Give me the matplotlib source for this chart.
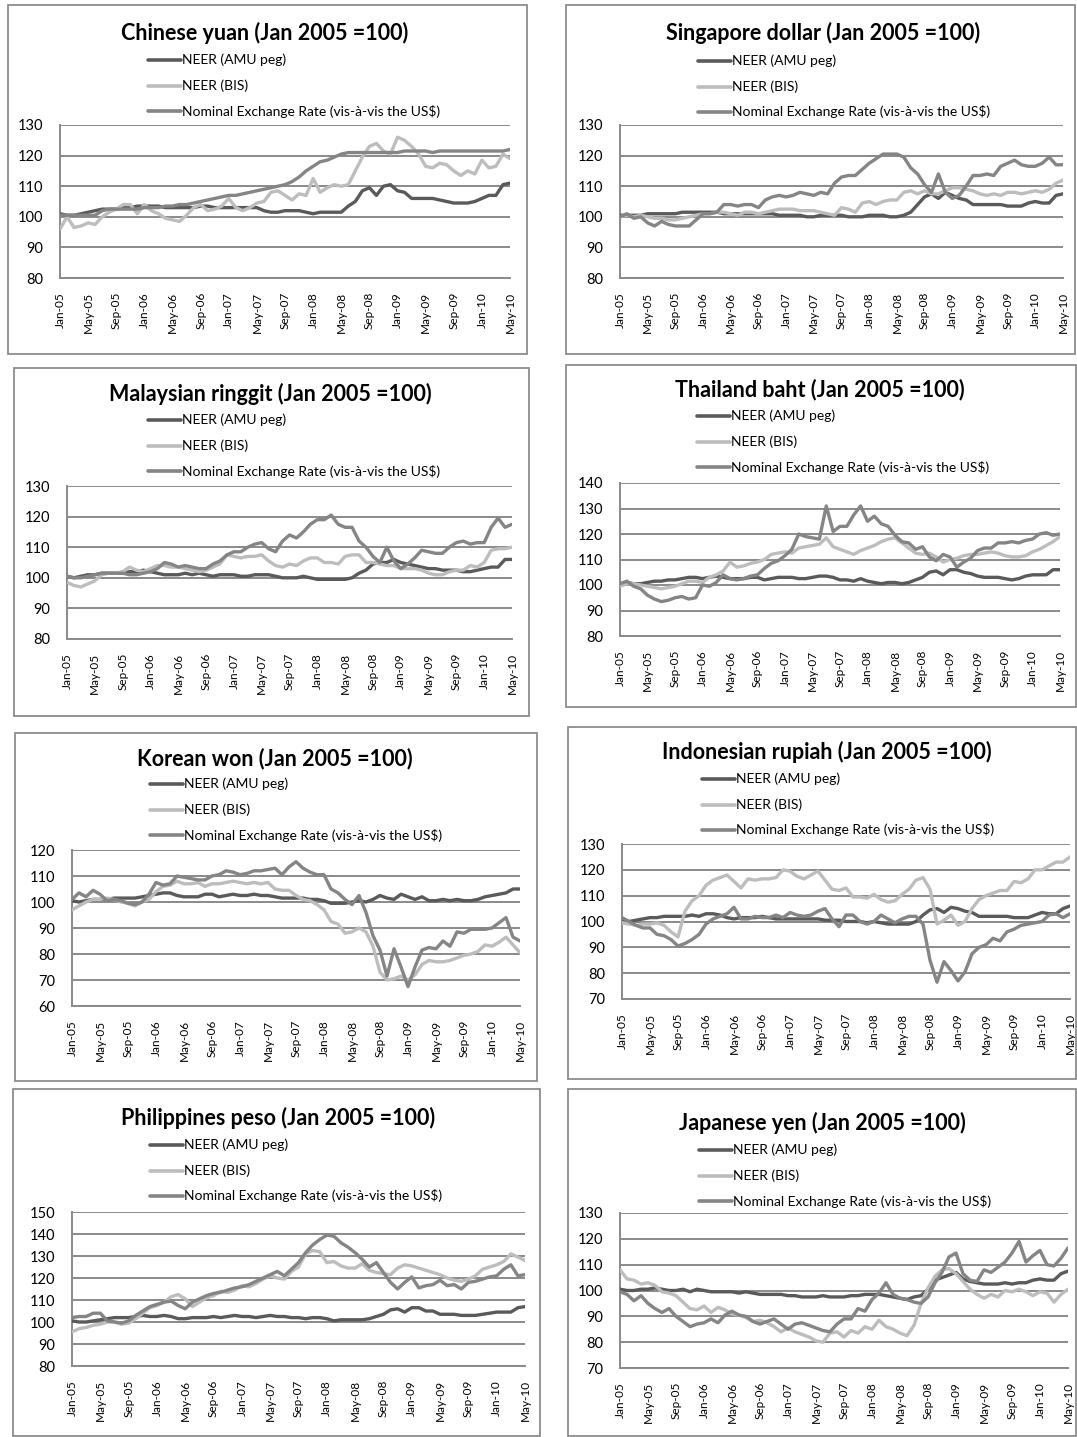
import numpy as np
import matplotlib
matplotlib.use("Agg")
import matplotlib.pyplot as plt
from matplotlib.lines import Line2D
from matplotlib.patches import Rectangle

plt.rcParams['font.family'] = ['Lato', 'DejaVu Sans']

# ---------------- data ----------------
tick_labels = ['Jan-05', 'May-05', 'Sep-05', 'Jan-06', 'May-06', 'Sep-06', 'Jan-07', 'May-07',
               'Sep-07', 'Jan-08', 'May-08', 'Sep-08', 'Jan-09', 'May-09', 'Sep-09', 'Jan-10', 'May-10']
series_names = ['NEER (AMU peg)', 'NEER (BIS)', 'Nominal Exchange Rate (vis-à-vis the US$)']

cny_amu = [101, 100.5, 100.5, 101, 101.5, 102, 102.5, 102.5, 102.5, 103, 103, 103.5, 103.5, 103.5, 103.5, 103, 103, 103, 103, 103,
           103.5, 103.5, 103, 103, 103, 103, 103, 103, 103, 102, 101.5, 101.5, 102, 102, 102, 101.5, 101, 101.5, 101.5, 101.5,
           101.5, 103.5, 105, 108.5, 109.5, 107, 110, 110.5, 108.5, 108, 106, 106, 106, 106, 105.5, 105, 104.5, 104.5, 104.5, 105,
           106, 107, 107, 110.5, 111]
cny_bis = [96, 100, 96.5, 97, 98, 97.5, 100, 101.5, 102.5, 104, 104, 101, 104, 102, 101, 99.5, 99, 98.5, 100.5, 103,
           104, 102, 102.5, 103.5, 106, 103, 102, 103, 104.5, 105, 108, 108.5, 107, 105.5, 107.5, 107, 112.5, 108, 109.5, 110.5,
           110, 110.5, 115, 119.5, 123, 124, 121.5, 120.5, 126, 125, 123, 120.5, 116.5, 116, 117.5, 117, 115, 113.5, 115, 114,
           118.5, 116, 116.5, 120.5, 119]
cny_ner = [100.5, 100.5, 100.5, 100.5, 100.5, 100.5, 102, 102.5, 102.5, 102.5, 102.5, 102.5, 103, 103, 103, 103.5, 103.5, 104, 104, 104.5,
           105, 105.5, 106, 106.5, 107, 107, 107.5, 108, 108.5, 109, 109.5, 110, 110.5, 111.5, 113, 115, 116.5, 118, 118.5, 119.5,
           120.5, 121, 121, 121, 121, 121, 121, 121, 121, 121.5, 121.5, 121.5, 121.5, 121, 121.5, 121.5, 121.5, 121.5, 121.5, 121.5,
           121.5, 121.5, 121.5, 121.5, 122]

sgd_amu = [100.5, 100.5, 100.5, 100.5, 101, 101, 101, 101, 101, 101.5, 101.5, 101.5,
           101.5, 101.5, 101.5, 101, 101, 101, 101, 101, 101, 101, 101, 100.5,
           100.5, 100.5, 100.5, 100, 100, 100.5, 100.5, 100.5, 100.5, 100, 100, 100,
           100.5, 100.5, 100.5, 100, 100, 100.5,
           101.5, 104, 106.5, 107.5, 106, 108, 107, 106, 105.5, 104, 104, 104, 104, 104, 103.5, 103.5, 103.5, 104.5,
           105, 104.5, 104.5, 107, 107.5]
sgd_bis = [100, 100.5, 100, 100.5, 100, 99.5, 99.5, 99, 99, 99.5, 100, 100.5,
           101, 101, 101.5, 101.5, 101, 100.5, 101.5, 101.5, 101, 101.5,
           102, 102.5, 102.5, 102.5, 102, 102, 102, 101.5, 101,
           100.5, 103, 102.5, 101.5, 104.5, 105, 104, 105, 105.5, 105.5, 108, 108.5, 107.5, 108.5, 107.5, 107.5, 108.5, 109.5,
           109.5, 109, 108.5, 107.5, 107, 107.5, 107, 108, 108, 107.5, 108, 108.5, 108, 109, 111, 112]
sgd_ner = [100, 101, 99.5, 100, 98, 97, 98.5, 97.5, 97, 97, 97, 99,
           101, 101, 101.5, 104, 104, 103.5, 104, 104, 103, 105.5, 106.5, 107, 106.5, 107, 108, 107.5, 107, 108,
           107.5, 111, 113, 113.5, 113.5, 115.5, 117.5, 119, 120.5, 120.5, 120.5, 119.5, 116, 114, 110.5, 108, 114, 108, 106, 107,
           110, 113.5, 113.5, 114, 113.5, 116.5, 117.5, 118.5, 117, 116.5, 116.5, 117.5, 119.5, 117, 117]

myr_amu = [100.5, 100, 100.5, 101, 101, 101.5, 101.5, 101.5, 101.5, 102, 102, 102.5, 102, 101.5, 101, 101, 101, 101.5, 101, 101.5,
           101, 100.5, 101, 101, 101, 100.5, 100.5, 101, 101, 101, 100.5, 100, 100, 100, 100.5, 100, 99.5, 99.5, 99.5, 99.5,
           99.5, 100, 101.5, 102.5, 104.5, 105, 105, 106, 105, 104.5, 104, 103.5, 103, 103, 102.5, 102.5, 102.5, 102, 102, 102.5,
           103, 103.5, 103.5, 106, 106]
myr_bis = [98.5, 97.5, 97, 98, 99, 101, 101.5, 101.5, 102, 103.5, 102.5, 102, 103, 104, 104, 103.5, 103.5, 103, 102.5, 102,
           102.5, 103.5, 104.5, 107.5, 107, 106.5, 107, 107, 107.5, 105.5, 104, 103.5, 104.5, 104, 105.5, 106.5, 106.5, 105, 105, 104.5,
           107, 107.5, 107.5, 105, 105, 104.5, 104, 104, 103, 103, 103, 102.5, 101.5, 101, 101, 102, 102.5, 102.5, 104, 103.5,
           105, 109, 109.5, 109.5, 110]
myr_ner = [100.5, 100, 100, 100.5, 101, 101.5, 101.5, 101.5, 101.5, 101, 101, 101.5, 102, 103, 105, 104.5, 103.5, 104, 103.5, 103,
           103, 104.5, 105.5, 107.5, 108.5, 108.5, 110, 111, 111.5, 109.5, 108.5, 112, 114, 113, 115, 117.5, 119, 119, 120.5, 117.5,
           116.5, 116.5, 112, 110, 107, 105, 110, 105.5, 103, 104.5, 106.5, 109, 108.5, 108, 108, 110, 111.5, 112, 111, 111.5,
           111.5, 116.5, 119.5, 116.5, 117.5]

thb_amu = [100.5, 101, 100.5, 100.5, 101, 101.5, 101.5, 102, 102, 102.5, 103, 103, 102.5, 103, 103.5, 103, 102.5, 102.5, 102.5, 103,
           103, 102, 102.5, 103, 103, 103, 102.5, 102.5, 103, 103.5, 103.5, 103, 102, 102, 101.5, 102.5, 101.5, 101, 100.5, 101,
           101, 100.5, 101, 102, 103, 105, 105.5, 104, 106, 106, 105, 104.5, 103.5, 103, 103, 103, 102.5, 102, 102.5, 103.5,
           104, 104, 104, 106, 106]
thb_bis = [99.5, 100.5, 100.5, 100, 99.5, 99, 98.5, 99, 99.5, 100.5, 101.5, 101.5, 101, 103, 104, 105.5, 109, 107, 107.5, 108.5,
           109, 110, 112, 112.5, 113, 112.5, 114.5, 115, 115.5, 116, 118.5, 115, 114, 113, 112, 113.5, 114.5, 115.5, 117, 118,
           118.5, 116.5, 114.5, 112.5, 112, 112.5, 111, 109, 110, 110.5, 111.5, 112, 112, 112.5, 113, 112.5, 111.5, 111, 111, 111.5,
           113, 114, 115.5, 117, 119]
thb_ner = [100.5, 101.5, 99.5, 98.5, 96, 94.5, 93.5, 94, 95, 95.5, 94.5, 95, 100, 99.5, 101, 104, 102.5, 102, 102.5, 103.5,
           104, 106.5, 108.5, 109.5, 111.5, 114, 120, 119, 118.5, 118, 131, 121, 123, 123, 127.5, 131, 125, 127, 124, 123,
           119.5, 117, 116.5, 114, 115, 111, 109.5, 112, 111, 107, 109, 110.5, 113.5, 114.5, 114.5, 116.5, 116.5, 117, 116.5, 117.5,
           118, 120, 120.5, 119.5, 120]

krw_amu = [100.5, 100, 100.5, 101, 101, 101, 101.5, 101.5, 101.5, 101.5, 102, 102.5, 103, 103.5, 103.5, 102.5, 102, 102, 102, 103,
           103, 102, 102.5, 103, 102.5, 102.5, 103, 102.5, 102.5, 102, 101.5, 101.5, 101.5, 101.5, 101, 101, 100.5, 99.5, 99.5, 99.5,
           100, 100.5, 100, 101, 102.5, 101.5, 101, 103, 102, 101, 102, 100.5, 100.5, 101, 100.5, 101, 100.5, 100.5, 101, 102,
           102.5, 103, 103.5, 105, 105]
krw_bis = [97, 98.5, 100, 101, 101, 101.5, 101, 100, 99.5, 98.5, 100, 101, 104, 106, 106.5, 108, 107, 107, 107.5, 106,
           107, 107, 107.5, 108, 107.5, 107, 107.5, 107, 107.5, 105, 104.5, 104.5, 102.5, 101, 100.5, 99, 97, 92.5, 91.5, 88,
           88.5, 90, 88.5, 83, 73, 70, 70.5, 71.5, 70, 72, 76, 77.5, 77, 77, 77.5, 78.5, 79.5, 80, 81, 83.5,
           83, 84.5, 86.5, 83.5, 80.5]
krw_ner = [101, 103.5, 102, 104.5, 103, 100.5, 101, 100.5, 99.5, 99, 100, 103, 107.5, 106.5, 107, 110, 109.5, 109, 108.5, 108.5,
           110, 110.5, 112, 111.5, 110.5, 111, 112, 112, 112.5, 113, 110.5, 113.5, 115.5, 113, 111.5, 110.5, 110.5, 105, 103.5, 101,
           99, 102.5, 96, 87, 81.5, 71.5, 82, 75, 67.5, 75, 81.5, 82.5, 82, 85, 83, 88.5, 88, 89.5, 89.5, 89.5,
           90, 92, 94, 86.5, 85]

idr_amu = [101, 100, 100.5, 101, 101.5, 101.5, 102, 102, 102, 102, 102.5, 102, 103, 103, 102.5, 101.5, 101, 101.5, 101.5, 101.5,
           102, 101.5, 101, 101, 101, 101, 101, 101, 101, 100.5, 100.5, 100.5, 100, 100, 100, 99.5, 100, 99.5, 99, 99,
           99, 99, 100, 102.5, 104.5, 105, 103.5, 105.5, 105, 104, 103.5, 102, 102, 102, 102, 102, 101.5, 101.5, 101.5, 102.5,
           103.5, 103, 103, 105, 106]
idr_bis = [99.5, 99, 98.5, 99, 99, 99.5, 98.5, 96, 94, 104, 108, 110, 114, 116, 117, 118, 115.5, 113, 116.5, 116,
           116.5, 116.5, 117, 120, 119.5, 117.5, 116.5, 118, 119.5, 116, 112.5, 112, 113, 109.5, 109.5, 109, 110.5, 108.5, 107.5, 108,
           110.5, 112.5, 116, 117, 112.5, 99, 100.5, 102.5, 98.5, 100, 105, 108.5, 110, 111, 112, 112, 115.5, 115, 116.5, 120,
           120, 121.5, 123, 123, 125]
idr_ner = [101.5, 100, 98.5, 97.5, 97.5, 95, 94.5, 93, 90.5, 91.5, 93, 95, 99, 101, 102, 103, 105.5, 101, 101, 102,
           101.5, 101.5, 102.5, 101.5, 103.5, 102.5, 102, 102.5, 104, 105, 101, 98, 102.5, 102.5, 100, 99, 100, 102.5, 101, 99.5,
           101, 102, 102, 99, 85, 76.5, 84.5, 81, 77, 80.5, 87.5, 90, 91, 93.5, 92.5, 96, 97, 98.5, 99, 99.5,
           100, 102.5, 103, 101.5, 103]

php_amu = [100.5, 100, 100, 100.5, 101, 101.5, 102, 102, 102, 102.5, 103, 102.5, 102.5, 103, 102.5, 101.5, 101.5, 102, 102, 102,
           102.5, 102, 102.5, 103, 102.5, 102.5, 102, 102.5, 103, 102.5, 102.5, 102, 102, 101.5, 102, 102, 101.5, 100.5, 101, 101,
           101, 101, 101.5, 102.5, 103.5, 105.5, 106, 104.5, 106.5, 106.5, 105, 105, 103.5, 103.5, 103.5, 103, 103, 103, 103.5, 104,
           104.5, 104.5, 104.5, 106.5, 107]
php_bis = [95.5, 97, 97.5, 98.5, 99, 100, 100, 99, 99.5, 101.5, 104, 106.5, 107.5, 109, 111.5, 112.5, 110.5, 107, 109, 111,
           112, 114, 113.5, 114.5, 116.5, 116, 117.5, 119.5, 121, 120, 119.5, 123, 125, 131, 132.5, 132, 127, 127.5, 125.5, 124.5,
           124.5, 126.5, 123.5, 122.5, 122, 121.5, 124.5, 126, 125.5, 124.5, 123.5, 122.5, 121.5, 120, 119, 118.5, 119.5, 121, 124, 125,
           126, 127.5, 131, 129.5, 128]
php_ner = [102, 102.5, 102.5, 104, 104, 100.5, 100, 99.5, 100.5, 103, 105, 107, 108, 109, 109.5, 107.5, 106, 109, 110.5, 112,
           113, 113.5, 114.5, 115.5, 116, 117, 118.5, 120, 121.5, 123, 121, 124, 127, 131.5, 135, 137.5, 139.5, 139, 136, 134,
           131.5, 128.5, 125, 127, 122.5, 118, 115, 118, 120.5, 115.5, 116.5, 117, 119, 116.5, 117, 115, 118, 118.5, 119.5, 120.5,
           121, 124, 126, 121, 121.5]

jpy_amu = [100.5, 100, 100, 100.5, 100.5, 101, 100.5, 100, 100, 100.5, 99.5, 100.5, 100, 99.5, 99.5, 99.5, 99.5, 99, 99.5, 99,
           98.5, 98.5, 98.5, 98.5, 98, 98, 97.5, 97.5, 97.5, 98, 97.5, 97.5, 97.5, 98, 98, 98.5, 98.5, 98.5, 98, 97.5,
           97, 96.5, 97.5, 98, 100.5, 104, 105, 106, 107, 104.5, 103.5, 103, 102.5, 102.5, 102.5, 103, 102.5, 103, 103, 104,
           104.5, 104, 104, 106.5, 107.5]
jpy_bis = [108, 104.5, 104, 102.5, 103, 102, 99.5, 99, 98, 95.5, 93, 92.5, 94, 91.5, 93.5, 92.5, 91, 90.5, 89.5, 88,
           88.5, 87.5, 86, 84, 85.5, 84, 83, 82, 80.5, 80, 83.5, 84, 82, 84.5, 83.5, 86, 85, 88.5, 86, 85,
           83.5, 82.5, 86.5, 95, 101, 105.5, 108, 108.5, 106.5, 103.5, 100.5, 98.5, 97, 98.5, 97.5, 100, 99.5, 100.5, 99.5, 98,
           99.5, 99, 95.5, 98.5, 100.5]
jpy_ner = [99.5, 98.5, 96, 98, 95, 93, 91.5, 93, 90, 88, 86, 87, 87.5, 89, 87.5, 90.5, 92, 90.5, 90, 88,
           87, 88, 89, 87, 85, 87, 87.5, 86.5, 85.5, 84.5, 84, 87, 89, 89, 93, 92, 96.5, 99, 103, 98.5,
           97, 96.5, 95.5, 95, 97.5, 103, 107, 113, 114.5, 106.5, 104, 103.5, 108, 107, 109, 111, 114.5, 119, 111, 113.5,
           115.5, 110, 109.5, 112.5, 116.5]

titles = ['Chinese yuan (Jan 2005 =100)', 'Singapore dollar (Jan 2005 =100)',
          'Malaysian ringgit (Jan 2005 =100)', 'Thailand baht (Jan 2005 =100)',
          'Korean won (Jan 2005 =100)', 'Indonesian rupiah (Jan 2005 =100)',
          'Philippines peso (Jan 2005 =100)', 'Japanese yen (Jan 2005 =100)']
panel_data = [(cny_amu, cny_bis, cny_ner), (sgd_amu, sgd_bis, sgd_ner),
              (myr_amu, myr_bis, myr_ner), (thb_amu, thb_bis, thb_ner),
              (krw_amu, krw_bis, krw_ner), (idr_amu, idr_bis, idr_ner),
              (php_amu, php_bis, php_ner), (jpy_amu, jpy_bis, jpy_ner)]
y_ranges = [(80, 130), (80, 130), (80, 130), (80, 140), (60, 120), (70, 130), (80, 150), (70, 130)]

# ---------------- layout (pixels) ----------------
W, H = 1077, 1437
# frame boxes: left, top, right, bottom
frames = [(8, 5, 527, 354), (566, 5, 1075, 354),
          (14, 368, 529, 716), (566, 365, 1076, 707),
          (15, 733, 537, 1081), (568, 727, 1076, 1079),
          (13, 1089, 540, 1436), (568, 1089, 1076, 1436)]
# plot areas: left, top, right, bottom
plot_areas = [(60, 125, 510, 278), (620, 125, 1063, 278),
              (67, 486, 512, 639), (620, 483, 1060, 636),
              (72, 850, 520, 1006), (622, 844, 1070, 999),
              (72, 1212, 525, 1366), (620, 1213, 1068, 1368)]
title_pos = [(265, 33), (823, 33), (270, 394), (820, 390), (275, 759), (827, 752), (278, 1118), (822, 1123)]
legend_pos = [(148, 60), (698, 61), (148, 420), (697, 416), (150, 784), (702, 779), (150, 1145), (699, 1150)]
legend_gap = 25.5

colors = ['#5a5a5a', '#bdbdbd', '#858585']
grid_c = '#8a8a8a'

fig = plt.figure(figsize=(W / 100, H / 100), dpi=100)
fig.patch.set_facecolor('white')

def fx(x):
    return x / W

def fy(y):
    return 1 - y / H

x = np.arange(len(cny_amu))
tick_pos = np.arange(0, len(x), 4)

for i in range(8):
    l, t, r, b = frames[i]
    fig.add_artist(Rectangle((fx(l), fy(b)), fx(r - l), (b - t) / H, transform=fig.transFigure,
                             fill=False, edgecolor='#8c8c8c', linewidth=1.3))
    pl, pt, pr, pb = plot_areas[i]
    ax = fig.add_axes([fx(pl), fy(pb), fx(pr - pl), (pb - pt) / H])
    ymin, ymax = y_ranges[i]
    for k, s in enumerate(panel_data[i]):
        ax.plot(x, s, color=colors[k], lw=2.4, solid_joinstyle='round', solid_capstyle='round', zorder=3 + k)
    ax.set_xlim(0, len(x) - 1)
    ax.set_ylim(ymin, ymax)
    ax.set_yticks(np.arange(ymin, ymax + 1, 10))
    ax.yaxis.grid(True, color=grid_c, lw=1.4)
    ax.set_axisbelow(True)
    for sp in ['top', 'right']:
        ax.spines[sp].set_visible(False)
    for sp in ['left', 'bottom']:
        ax.spines[sp].set_color(grid_c)
        ax.spines[sp].set_linewidth(1.4)
    ax.set_xticks(tick_pos)
    ax.set_xticklabels(tick_labels, rotation=90, fontsize=8.5)
    ax.tick_params(axis='x', length=0, pad=10, colors='#000000')
    ax.tick_params(axis='y', length=0, pad=12, labelsize=10.5, colors='#000000')
    ax.set_facecolor('none')

    tx, ty = title_pos[i]
    fig.text(fx(tx), fy(ty), titles[i], ha='center', va='center', fontsize=15.5, fontweight='bold')
    lx, ly = legend_pos[i]
    for k in range(3):
        yy = ly + k * legend_gap
        fig.add_artist(Line2D([fx(lx), fx(lx + 33)], [fy(yy), fy(yy)], transform=fig.transFigure,
                              color=colors[k], lw=2.6, solid_capstyle='round'))
        fig.text(fx(lx + 34), fy(yy), series_names[k], ha='left', va='center', fontsize=10)

fig.savefig('out.png', dpi=100, facecolor='white')
